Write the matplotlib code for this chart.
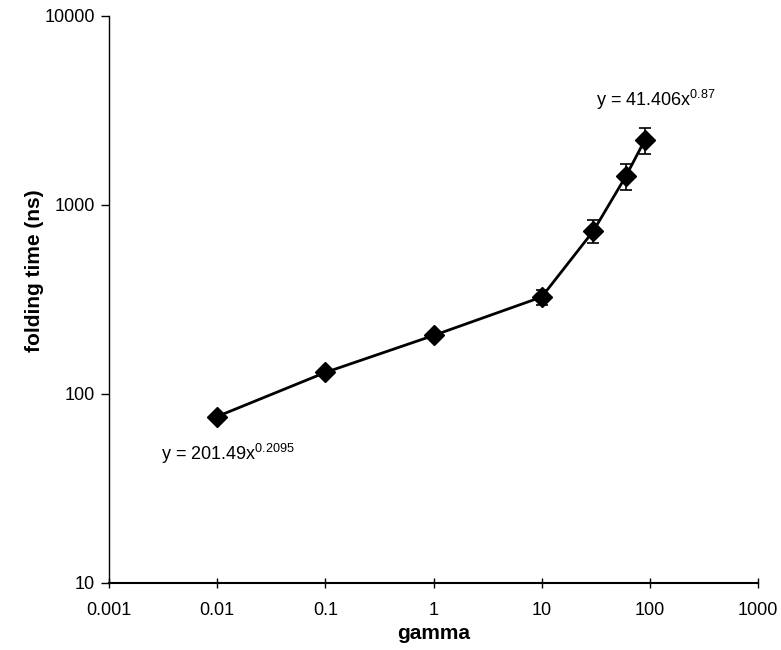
import matplotlib
matplotlib.use("Agg")
import matplotlib.pyplot as plt
from matplotlib.ticker import FixedLocator, FixedFormatter, NullLocator

plt.rcParams['font.family'] = ['Liberation Sans', 'DejaVu Sans']
plt.rcParams['mathtext.fontset'] = 'custom'
plt.rcParams['mathtext.rm'] = 'Liberation Sans'
plt.rcParams['mathtext.it'] = 'Liberation Sans'

# data
gamma = [0.01, 0.1, 1, 10, 30, 60, 90]
fold_time = [76, 130, 204, 326, 728, 1420, 2210]
fold_err = [0, 0, 0, 30, 100, 220, 350]

xticks = [0.001, 0.01, 0.1, 1, 10, 100, 1000]
xtick_labels = ['0.001', '0.01', '0.1', '1', '10', '100', '1000']
yticks = [10, 100, 1000, 10000]
ytick_labels = ['10', '100', '1000', '10000']

fig = plt.figure(figsize=(7.81, 6.5), dpi=100)
ax = fig.add_axes([0.1396, 0.1031, 0.8310, 0.8723])

ax.errorbar(gamma, fold_time, yerr=fold_err, color='black', ecolor='black',
            lw=2.0, elinewidth=1.2, capsize=4, capthick=1.2,
            marker='D', ms=10, mfc='black', mec='black', zorder=3)

ax.set_xscale('log')
ax.set_yscale('log')
ax.set_xlim(0.001, 1000)
ax.set_ylim(10, 10000)

ax.xaxis.set_major_locator(FixedLocator(xticks))
ax.xaxis.set_major_formatter(FixedFormatter(xtick_labels))
ax.xaxis.set_minor_locator(NullLocator())
ax.yaxis.set_major_locator(FixedLocator(yticks))
ax.yaxis.set_major_formatter(FixedFormatter(ytick_labels))
ax.yaxis.set_minor_locator(NullLocator())

ax.spines['top'].set_visible(False)
ax.spines['right'].set_visible(False)
ax.spines['left'].set_linewidth(1.0)
ax.spines['bottom'].set_linewidth(1.5)
ax.tick_params(axis='y', direction='out', length=6, width=1.0, labelsize=13, pad=4)
ax.tick_params(axis='x', direction='inout', length=7, width=1.0, labelsize=13, pad=10)

ax.set_xlabel('gamma', fontsize=15, fontweight='bold', labelpad=4)
ax.set_ylabel('folding time (ns)', fontsize=15, fontweight='bold', labelpad=10)
ax.yaxis.set_label_coords(-0.1, 0.55)

ax.text(32, 3600, r'y = 41.406x$^{0.87}$', fontsize=13, va='center', ha='left')
ax.text(0.0030, 48, r'y = 201.49x$^{0.2095}$', fontsize=13, va='center', ha='left')

fig.savefig('out.png', dpi=100)
